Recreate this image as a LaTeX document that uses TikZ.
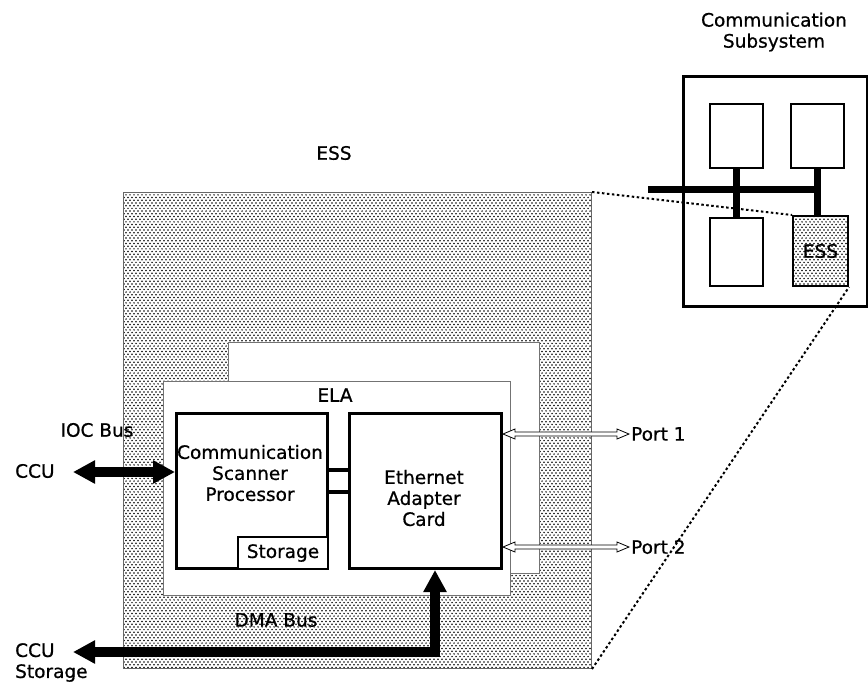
\documentclass[tikz,border=0pt]{standalone}
\usepackage{fontspec}
\setmainfont{DejaVu Sans}[FakeBold=0.7]
\usetikzlibrary{arrows.meta,patterns,calc}
\pgfdeclarepatternformonly{essdots}{\pgfqpoint{-1pt}{-1pt}}{\pgfqpoint{4pt}{5pt}}{\pgfqpoint{4pt}{5.4pt}}{%
  \pgfpathcircle{\pgfqpoint{0pt}{0pt}}{0.85pt}%
  \pgfpathcircle{\pgfqpoint{2pt}{2.7pt}}{0.85pt}%
  \pgfusepath{fill}}
\begin{document}
\begin{tikzpicture}[x=1pt,y=-1pt,
  font=\fontsize{18.5}{21}\selectfont,
  dotbox/.style={draw=black!60,line width=1pt,pattern=essdots,pattern color=black,inner sep=0pt,anchor=north west},
  thinbox/.style={draw=black!55,line width=1pt,fill=white,inner sep=0pt,anchor=north west},
  heavybox/.style={draw=black,line width=3pt,fill=white,inner sep=0pt,anchor=north west},
  smallbox/.style={draw=black,line width=2pt,fill=white,inner sep=0pt,anchor=north west},
  lbl/.style={inner sep=0pt,align=center},
  bigarrow/.style={line width=10pt,line join=miter,
     {Triangle[length=22pt,width=22pt]}-{Triangle[length=22pt,width=22pt]}},
  bus/.style={line width=7pt},
  link/.style={line width=4pt},
  zoomline/.style={line width=2pt,dash pattern=on 2.5pt off 2.5pt},
  hollow/.style={draw=black,line width=0.8pt,fill=white}]
\useasboundingbox (0,0) rectangle (868,689);

% ESS region
\node[dotbox,minimum width=468pt,minimum height=476pt] (ess) at (123,192) {};
\node[lbl] (esslabel) at (334,153) {ESS};

% ELA boards
\node[thinbox,minimum width=311pt,minimum height=231pt] (back) at (228,342) {};
\node[thinbox,minimum width=347pt,minimum height=214pt] (ela) at (163,381) {};
\node[lbl] (elalabel) at (335,395) {ELA};

% Communication Scanner Processor
\node[heavybox,minimum width=151pt,minimum height=155pt] (csp) at (175,412) {};
\node[lbl] (csptext) at (250,473) {Communication\\Scanner\\Processor};
\node[smallbox,anchor=south east,minimum width=90pt,minimum height=32pt] (stor) at (csp.south east) {};
\node[lbl] (stortext) at (stor.center) {Storage};

% Ethernet Adapter Card
\node[heavybox,minimum width=152pt,minimum height=155pt] (eac) at (348,412) {};
\node[lbl] (eactext) at (424,498) {Ethernet\\Adapter\\Card};

% links CSP - EAC
\coordinate (l1) at (0,470);
\coordinate (l2) at (0,492);
\draw[link] (csp.east |- l1) -- (eac.west |- l1);
\draw[link] (csp.east |- l2) -- (eac.west |- l2);

% IOC bus
\node[lbl] (ioclabel) at (97,430) {IOC Bus};
\node[lbl,anchor=west] (ccu1) at (15,471) {CCU};
\coordinate (iocL) at (73,472);
\draw[bigarrow] (iocL) -- (csp.west |- iocL);

% DMA bus
\node[lbl] (dmalabel) at (276,620) {DMA Bus};
\node[lbl,align=left,anchor=north west] (ccu2) at (15,643) {CCU\\Storage};
\coordinate (dmaL) at (73,652);
\coordinate (dmaC) at (435,652);
\draw[bigarrow] (dmaL) -- (dmaC) -- (dmaC |- eac.south);

% Ports
\node[lbl,anchor=west] (port1) at (631,434) {Port 1};
\node[lbl,anchor=west] (port2) at (631,547) {Port 2};
\coordinate (p1L) at (eac.east |- port1);
\coordinate (p1R) at ($(port1.west)+(-2,0)$);
\coordinate (p2L) at (eac.east |- port2);
\coordinate (p2R) at ($(port2.west)+(-2,0)$);
\foreach \a/\b in {p1L/p1R,p2L/p2R}{
  \draw[hollow] (\a) -- ++(12,-5) -- ++(0,3) -- ($(\b)+(-12,-2)$) -- ++(0,-3) -- (\b)
     -- ++(-12,5) -- ++(0,-3) -- ($(\a)+(12,2)$) -- ++(0,3) -- cycle;
}

% Communication Subsystem
\node[lbl] (cslabel) at (774,32) {Communication\\Subsystem};
\node[smallbox,line width=2.5pt,minimum width=184pt,minimum height=230pt] (cs) at (682,75) {};
\node[smallbox,minimum width=53pt,minimum height=64pt] (n1) at (709,103) {};
\node[smallbox,minimum width=53pt,minimum height=64pt] (n2) at (790,103) {};
\node[smallbox,minimum width=53pt,minimum height=68pt] (n3) at (709,217) {};
\node[dotbox,draw=black,line width=2pt,minimum width=55pt,minimum height=70pt] (sess) at (792,215) {};
\node[lbl] (sesstext) at (sess.center) {ESS};

% zoom lines
\draw[zoomline] (ess.north east) -- (sess.north west);
\draw[zoomline] (ess.south east) -- (sess.south east);

% bus
\coordinate (busL) at (648,189);
\draw[bus] (busL) -- (busL -| n2.south);
\draw[bus] (n1.south) -- (n3.north);
\draw[bus] (n2.south) -- (n2.south |- sess.north);
\end{tikzpicture}
\end{document}
